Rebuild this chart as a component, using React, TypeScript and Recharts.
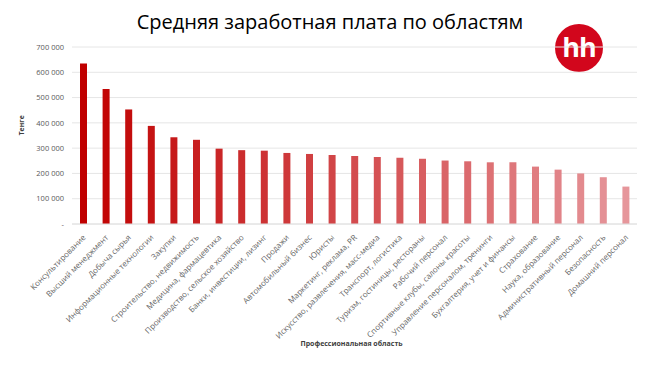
import React from "react";
import { BarChart, Bar, XAxis, YAxis, CartesianGrid, Cell, Label } from "recharts";

const categories = [
  "Консультирование",
  "Высший менеджмент",
  "Добыча сырья",
  "Информационные технологии",
  "Закупки",
  "Строительство, недвижимость",
  "Медицина, фармацевтика",
  "Производство, сельское хозяйство",
  "Банки, инвестиции, лизинг",
  "Продажи",
  "Автомобильный бизнес",
  "Юристы",
  "Маркетинг, реклама, PR",
  "Искусство, развлечения, масс-медиа",
  "Транспорт, логистика",
  "Туризм, гостиницы, рестораны",
  "Рабочий персонал",
  "Спортивные клубы, салоны красоты",
  "Управление персоналом, тренинги",
  "Бухгалтерия, учет и финансы",
  "Страхование",
  "Наука, образование",
  "Административный персонал",
  "Безопасность",
  "Домашний персонал",
];

const salaries = [
  635000, 534000, 453000, 388000, 343000, 333000, 298000, 292000, 290000,
  281000, 277000, 273000, 269000, 265000, 262000, 258000, 251000, 248000,
  244000, 244000, 227000, 215000, 200000, 185000, 148000,
];

const yTicks = [0, 100000, 200000, 300000, 400000, 500000, 600000, 700000];

const data = categories.map((name, i) => ({ name, value: salaries[i] }));

// dark red -> pale pink across the bars
const from = [192, 0, 0];
const to = [230, 150, 155];
const barColor = (i: number) => {
  const t = i / (categories.length - 1);
  const c = from.map((f, k) => Math.round(f + (to[k] - f) * t));
  return `rgb(${c[0]},${c[1]},${c[2]})`;
};

const fmt = (v: number) =>
  v === 0 ? "-" : v.toString().replace(/\B(?=(\d{3})+(?!\d))/g, " ");

const font = "'Open Sans', 'Noto Sans', sans-serif";

const XTick = ({ x, y, payload }: any) => (
  <text
    x={x + 3}
    y={y + 6}
    transform={`rotate(-45, ${x + 3}, ${y + 6})`}
    textAnchor="end"
    fontSize={8}
    fill="#666"
    fontFamily={font}
  >
    {payload.value}
  </text>
);

export default function App() {
  return (
    <div
      style={{
        position: "absolute",
        left: 0,
        top: 0,
        width: 650,
        height: 375,
        background: "#fff",
        fontFamily: font,
      }}
    >
      <div
        style={{
          position: "absolute",
          top: 8,
          left: 0,
          width: 660,
          textAlign: "center",
          fontSize: 20,
          color: "#000",
        }}
      >
        Средняя заработная плата по областям
      </div>
      <div
        style={{
          position: "absolute",
          left: 555,
          top: 24,
          width: 48,
          height: 48,
          borderRadius: "50%",
          background: "#d2061c",
          color: "#fff",
          fontWeight: 700,
          fontSize: 27,
          lineHeight: "46px",
          textAlign: "center",
          letterSpacing: -1,
        }}
      >
        hh
      </div>
      <BarChart
        width={650}
        height={375}
        data={data}
        margin={{ top: 47, right: 13, left: 0, bottom: 0 }}
        barCategoryGap="0%"
      >
        <CartesianGrid vertical={false} stroke="#e6e6e6" />
        <XAxis
          dataKey="name"
          interval={0}
          height={151}
          tick={<XTick />}
          tickLine={false}
          axisLine={{ stroke: "#e0e0e0" }}
        >
          <Label
            value="Профессиональная область"
            position="insideBottom"
            offset={29}
            fontSize={7}
            fontWeight={700}
            fill="#404040"
            dx={-3}
          />
        </XAxis>
        <YAxis
          width={72}
          domain={[0, 700000]}
          ticks={yTicks}
          tickFormatter={fmt}
          tick={{ fontSize: 7.5, fill: "#595959", fontFamily: font }}
          tickLine={false}
          axisLine={false}
        >
          <Label
            value="Тенге"
            angle={-90}
            position="insideLeft"
            offset={22}
            fontSize={7}
            fontWeight={700}
            fill="#404040"
          />
        </YAxis>
        <Bar dataKey="value" barSize={7} isAnimationActive={false}>
          {data.map((d, i) => (
            <Cell key={d.name} fill={barColor(i)} />
          ))}
        </Bar>
      </BarChart>
    </div>
  );
}
